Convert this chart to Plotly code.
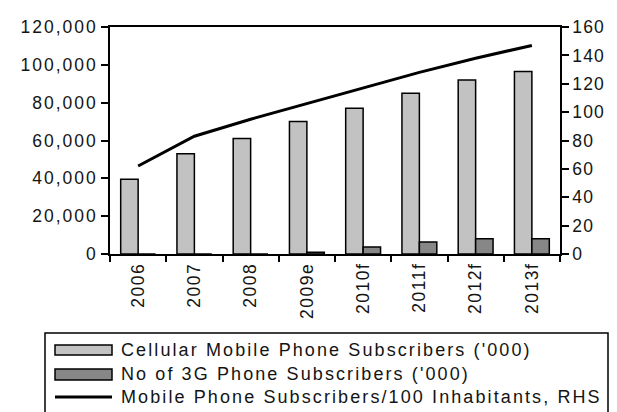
import plotly.graph_objects as go

# Data
years = ["2006", "2007", "2008", "2009e", "2010f", "2011f", "2012f", "2013f"]
cellular_subs = [39500, 53000, 61000, 70000, 77000, 85000, 92000, 96500]   # '000
subs_3g = [0, 0, 0, 900, 3700, 6300, 8100, 8100]                            # '000
per_100_inhabitants = [62, 83, 95, 106, 117, 128, 138, 147]                 # RHS

left_ticks = [0, 20000, 40000, 60000, 80000, 100000, 120000]
right_ticks = [0, 20, 40, 60, 80, 100, 120, 140, 160]

legend_labels = [
    "Cellular Mobile Phone Subscribers ('000)",
    "No of 3G Phone Subscribers ('000)",
    "Mobile Phone Subscribers/100 Inhabitants, RHS",
]

LIGHT = "#c2c2c2"
DARK = "#878787"
INK = "#141414"
FONT = "Liberation Sans, Arial, sans-serif"

W, H = 617, 412
ML, MR, MT, MB = 110, 57, 27, 158
PW, PH = W - ML - MR, H - MT - MB


def px(x):
    """pixel column -> paper x"""
    return (x - ML) / PW


def py(y):
    """pixel row -> paper y"""
    return (H - MB - y) / PH


def spaced(text, ls):
    """widen the letter spacing of a label"""
    return f"<span style='letter-spacing:{ls}px'>{text}</span>"


fig = go.Figure()
fig.add_trace(go.Bar(x=years, y=cellular_subs, name=legend_labels[0],
                     marker=dict(color=LIGHT, line=dict(color="black", width=1.5))))
fig.add_trace(go.Bar(x=years, y=subs_3g, name=legend_labels[1],
                     marker=dict(color=DARK, line=dict(color="black", width=1.5))))
fig.add_trace(go.Scatter(x=years, y=per_100_inhabitants, name=legend_labels[2],
                         yaxis="y2", mode="lines",
                         line=dict(color="black", width=3)))

# Hand-built legend box below the chart
shapes = [
    dict(type="rect", xref="paper", yref="paper",
         x0=px(45), x1=px(608), y0=py(420), y1=py(333),
         line=dict(color="black", width=1.5), fillcolor="rgba(0,0,0,0)"),
    dict(type="rect", xref="paper", yref="paper",
         x0=px(55), x1=px(112), y0=py(355), y1=py(345),
         line=dict(color="black", width=1.5), fillcolor=LIGHT),
    dict(type="rect", xref="paper", yref="paper",
         x0=px(55), x1=px(112), y0=py(380), y1=py(369),
         line=dict(color="black", width=1.5), fillcolor=DARK),
    dict(type="line", xref="paper", yref="paper",
         x0=px(55), x1=px(112), y0=py(397), y1=py(397),
         line=dict(color="black", width=3)),
]
annotations = [
    dict(text=spaced(lbl, 2.1), xref="paper", yref="paper", x=px(119), y=py(yy),
         xanchor="left", yanchor="middle", showarrow=False,
         font=dict(family=FONT, size=18, color=INK))
    for lbl, yy in zip(legend_labels, [350, 374, 397])
]

fig.update_layout(
    width=W, height=H,
    margin=dict(l=ML, r=MR, t=MT, b=MB, pad=0),
    paper_bgcolor="white", plot_bgcolor="white",
    barmode="group", bargap=0.38, bargroupgap=0,
    showlegend=False,
    font=dict(family=FONT, size=17.5, color=INK),
    shapes=shapes, annotations=annotations,
    xaxis=dict(type="category", showline=True, linecolor="black", linewidth=1.5,
               mirror=True, ticks="outside", tickson="boundaries", ticklen=6,
               tickcolor="black", tickwidth=1.5, tickangle=-90,
               tickvals=years, ticktext=[spaced(y, 1.5) for y in years],
               showgrid=False),
    yaxis=dict(range=[0, 120000], tickvals=left_ticks,
               ticktext=[spaced(f"{v:,}", 2) for v in left_ticks],
               showline=True, linecolor="black", linewidth=1.5,
               ticks="outside", ticklen=7, tickcolor="black", tickwidth=1.5,
               showgrid=False, zeroline=False),
    yaxis2=dict(range=[0, 160], tickvals=right_ticks,
                ticktext=[spaced(str(v), 1.2) for v in right_ticks],
                overlaying="y", side="right", showline=True, linecolor="black",
                linewidth=1.5, ticks="outside", ticklen=7, tickcolor="black",
                tickwidth=1.5, showgrid=False, zeroline=False),
)

fig.write_html("out.html")
